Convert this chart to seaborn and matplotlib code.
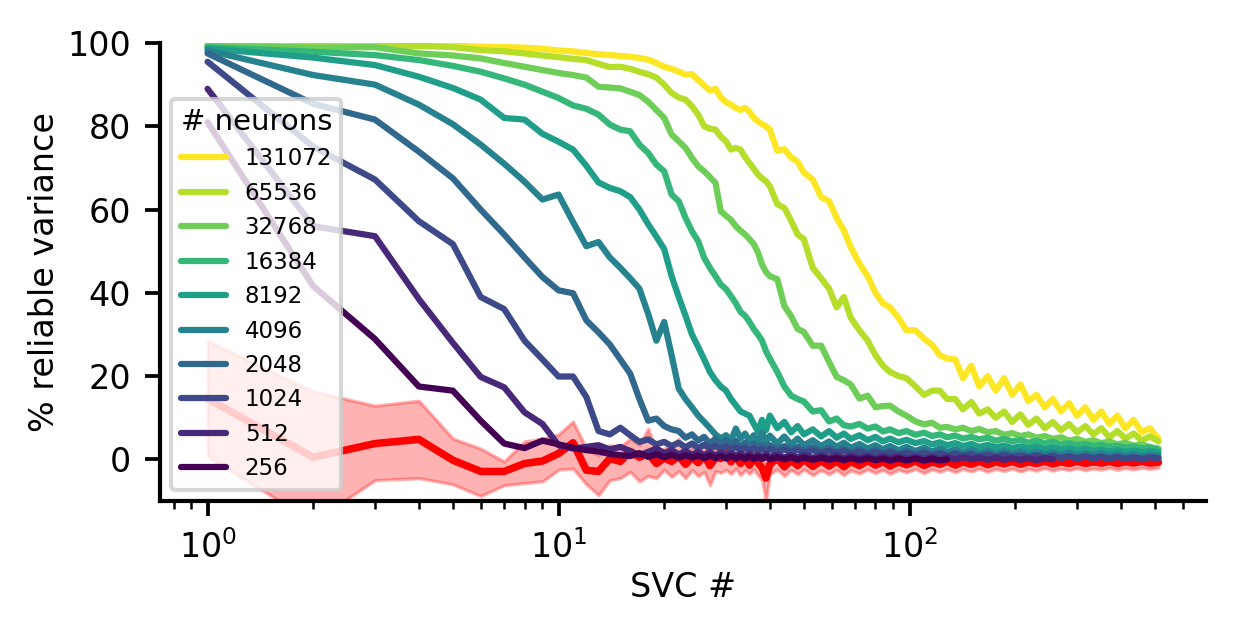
import numpy as np
import pandas as pd
import matplotlib
matplotlib.use("Agg")
import matplotlib.pyplot as plt
import seaborn as sns

# ---------------- data ----------------
SVC_GRID = list(range(1, 41)) + [42, 44, 46, 48, 50, 53, 56, 59, 62, 65, 68, 72, 76, 80, 84, 88, 93, 98,
                                 104, 110, 116, 122, 128, 135, 142, 150, 158, 167, 176, 186, 196, 207,
                                 218, 230, 243, 256, 270, 285, 300, 317, 334, 352, 371, 391, 412, 435,
                                 459, 484, 512]

NEURONS = ["131072", "65536", "32768", "16384", "8192", "4096", "2048", "1024", "512", "256"]

v131072 = [99.8, 99.7, 99.7, 99.6, 99.4, 99.1, 99.0, 98.9, 98.6, 98.2,
           98.0, 97.6, 97.3, 97.1, 96.9, 96.7, 96.4, 96.0, 95.2, 94.3,
           93.8, 93.1, 92.4, 92.5, 91.1, 89.8, 88.6, 89.0, 86.9, 85.8,
           85.2, 84.4, 83.9, 84.4, 83.5, 82.0, 81.2, 80.5, 80.0, 79.2,
           74.1, 74.5, 72.5, 71.5, 68.9, 67.2, 63.0, 62.0, 58.0, 55.0, 51.0, 47.0, 44.0, 40.0,
           37.5, 36.5, 34.0, 31.0, 31.0, 29.0, 27.5, 25.0, 24.2, 24.0, 19.5, 22.5, 17.5, 20.0,
           16.5, 19.5, 15.5, 18.0, 14.0, 15.5, 12.5, 14.5, 11.5, 13.5, 10.5, 12.5, 9.5, 11.5,
           8.5, 10.5, 7.5, 9.5, 6.5, 7.5, 5.0]
v65536 = [99.6, 99.5, 99.5, 99.3, 99.0, 98.3, 98.0, 97.5, 97.0, 96.6,
          96.2, 95.9, 95.0, 94.2, 94.3, 93.8, 93.1, 92.5, 91.7, 90.0,
          88.0, 86.9, 86.4, 84.8, 82.8, 80.0, 79.4, 79.2, 77.5, 76.4,
          74.4, 74.8, 74.4, 72.6, 71.2, 69.8, 68.4, 67.5, 66.8, 65.6,
          61.3, 60.4, 57.3, 54.0, 52.9, 46.0, 43.5, 41.0, 36.5, 39.0, 34.0, 31.0, 28.5, 25.0,
          22.5, 21.0, 20.0, 19.5, 17.5, 15.5, 16.5, 16.5, 14.5, 14.5, 12.0, 13.8, 11.0, 12.0,
          10.0, 11.5, 9.0, 10.8, 8.3, 9.8, 7.5, 9.0, 7.0, 8.5, 6.5, 8.0, 6.0, 7.5,
          5.3, 6.8, 5.0, 6.2, 4.5, 5.5, 4.3]
v32768 = [99.3, 98.9, 99.0, 97.5, 97.0, 96.3, 95.2, 94.3, 93.5, 92.8,
          92.3, 91.7, 89.5, 89.3, 89.1, 88.3, 87.5, 85.9, 83.9, 82.0,
          78.0, 76.4, 74.8, 72.4, 70.4, 69.2, 67.8, 66.4, 59.6, 58.5,
          57.5, 56.0, 54.9, 54.0, 52.9, 51.7, 49.7, 46.8, 45.0, 44.0,
          43.3, 36.8, 34.4, 31.3, 30.6, 27.3, 27.3, 23.4, 19.8, 19.0, 18.0, 14.6, 15.3, 12.5,
          12.8, 12.9, 11.5, 10.5, 9.1, 8.4, 8.8, 7.6, 7.8, 7.2, 7.6, 6.8, 7.3, 6.5,
          6.8, 5.9, 6.3, 5.6, 6.0, 5.2, 5.6, 4.9, 5.3, 4.5, 4.9, 4.2, 4.6, 3.9,
          4.3, 3.6, 4.0, 3.3, 3.6, 2.9, 2.6]
v16384 = [99.0, 97.9, 97.1, 95.9, 94.5, 93.1, 91.5, 90.0, 88.3, 86.8,
          85.0, 84.2, 82.8, 80.4, 79.2, 78.8, 75.6, 73.6, 70.8, 69.2,
          63.6, 62.0, 58.0, 54.8, 52.4, 48.4, 46.0, 44.0, 42.0, 40.9,
          39.2, 37.5, 35.4, 34.5, 33.0, 31.3, 30.0, 28.5, 26.0, 24.2,
          21.0, 17.5, 15.3, 14.5, 13.9, 11.5, 11.8, 9.1, 9.8, 8.2, 7.9, 8.5, 7.4, 7.9,
          6.7, 7.2, 6.3, 6.8, 5.9, 6.4, 5.6, 6.0, 5.3, 5.7, 5.0, 5.4, 4.8, 5.2,
          4.5, 4.9, 4.3, 4.7, 4.0, 4.4, 3.8, 4.2, 3.6, 3.9, 3.4, 3.7, 3.2, 3.5,
          3.0, 3.3, 2.8, 3.1, 2.6, 2.9, 2.3]
v8192 = [98.7, 96.5, 94.7, 91.9, 89.2, 86.4, 82.0, 81.6, 78.2, 76.3,
         74.4, 70.5, 66.5, 65.2, 64.4, 63.0, 60.0, 56.5, 53.5, 50.5,
         44.0, 39.0, 34.5, 30.0, 27.0, 24.0, 21.0, 19.0, 17.5, 16.5,
         14.5, 13.0, 11.5, 11.0, 10.5, 8.5, 6.7, 9.5, 7.0, 10.5,
         7.5, 9.0, 6.5, 8.0, 6.0, 7.2, 5.5, 6.8, 5.2, 6.2, 4.9, 5.8, 4.6, 5.4,
         4.3, 5.0, 4.1, 4.7, 3.9, 4.4, 3.6, 4.1, 3.4, 3.9, 3.2, 3.7, 3.0, 3.5,
         2.9, 3.3, 2.7, 3.1, 2.6, 3.0, 2.4, 2.8, 2.3, 2.6, 2.1, 2.5, 2.0, 2.3,
         1.9, 2.2, 1.8, 2.1, 1.7, 2.0, 1.6]
v4096 = [98.2, 92.3, 90.0, 85.2, 80.5, 75.6, 71.0, 66.7, 62.4, 63.6,
         57.0, 51.2, 52.2, 48.5, 46.0, 43.5, 41.0, 35.0, 28.5, 33.0,
         25.0, 17.0, 14.5, 12.5, 10.5, 9.0, 7.5, 6.0, 5.0, 5.8,
         4.5, 7.4, 5.0, 6.2, 4.4, 5.8, 4.0, 6.5, 4.2, 5.7,
         3.8, 5.5, 3.6, 5.0, 3.4, 4.6, 3.2, 4.3, 3.0, 4.0, 2.8, 3.7, 2.6, 3.4,
         2.4, 3.2, 2.2, 3.0, 2.0, 2.8, 1.9, 2.6, 1.8, 2.4, 1.6, 2.3, 1.5, 2.1,
         1.4, 2.0, 1.3, 1.9, 1.2, 1.8, 1.1, 1.7, 1.0, 1.6, 0.9, 1.5, 0.9, 1.4,
         0.8, 1.3, 0.7, 1.2, 0.7, 1.1, 0.8]
v2048 = [97.5, 85.4, 81.6, 73.9, 67.5, 60.0, 54.0, 48.5, 43.8, 40.6,
         39.9, 33.4, 30.5, 27.6, 24.0, 20.6, 14.5, 9.3, 9.8, 8.0,
         7.2, 6.8, 5.2, 6.0, 4.5, 5.4, 3.8, 5.0, 3.5, 4.6,
         3.2, 4.4, 3.0, 4.0, 2.8, 3.8, 2.7, 3.6, 2.6, 3.4,
         2.4, 3.2, 2.2, 3.0, 2.1, 2.9, 2.0, 2.7, 1.9, 2.5, 1.8, 2.4, 1.6, 2.3,
         1.5, 2.1, 1.4, 2.0, 1.3, 1.9, 1.2, 1.8, 1.1, 1.6, 1.0, 1.5, 0.9, 1.4,
         0.9, 1.3, 0.8, 1.2, 0.7, 1.1, 0.6, 1.0, 0.5, 0.9, 0.5, 0.9, 0.4, 0.8,
         0.4, 0.7, 0.3, 0.7, 0.3, 0.6, 0.4]
v1024 = [95.5, 75.1, 67.2, 57.2, 51.7, 39.0, 36.1, 28.5, 24.0, 19.9,
         19.9, 15.0, 6.8, 6.0, 7.6, 5.8, 4.2, 4.8, 3.6, 4.2,
         3.2, 4.0, 2.9, 3.8, 2.7, 3.5, 2.6, 3.3, 2.4, 3.1,
         2.3, 3.0, 2.2, 2.8, 2.1, 2.7, 2.0, 2.6, 1.9, 2.5,
         1.8, 2.4, 1.7, 2.3, 1.6, 2.2, 1.5, 2.1, 1.4, 2.0, 1.3, 1.9, 1.2, 1.8,
         1.1, 1.7, 1.0, 1.6, 0.9, 1.5, 0.8, 1.4, 0.8, 1.3, 0.7, 1.2, 0.6, 1.1,
         0.5, 1.0, 0.5, 0.9, 0.4, 0.9, 0.3, 0.8, 0.3, 0.7, 0.2, 0.7, 0.2, 0.6,
         0.1, 0.6, 0.1, 0.5, 0.0, 0.5, 0.2]
v512 = [89.0, 56.0, 53.6, 38.5, 28.0, 19.8, 17.3, 11.3, 8.5, 3.4,
        2.6, 3.0, 3.4, 2.4, 3.0, 2.0, 1.0, 1.8, 2.6, 1.5,
        2.2, 1.2, 2.0, 1.1, 1.8, 1.0, 1.7, 0.9, 1.6, 0.8,
        1.5, 0.8, 1.4, 0.7, 1.3, 0.7, 1.2, 0.6, 1.2, 0.6,
        1.1, 0.5, 1.0, 0.5, 1.0, 0.4, 0.9, 0.4, 0.9, 0.3, 0.8, 0.3, 0.8, 0.2,
        0.7, 0.2, 0.7, 0.1, 0.6, 0.1, 0.6, 0.0, 0.5, 0.0, 0.5, 0.0, 0.4, -0.1,
        0.4, -0.1, 0.3, -0.1, 0.3, -0.2, 0.3, 0.0]
v256 = [81.0, 41.6, 28.9, 17.5, 16.5, 9.3, 3.8, 2.7, 4.5, 3.6,
        2.8, 2.2, 1.9, 1.3, 1.0, 0.8, 1.5, 0.6, 1.2, 0.5,
        1.1, 0.4, 1.0, 0.4, 0.9, 0.3, 0.9, 0.3, 0.8, 0.2,
        0.8, 0.2, 0.7, 0.1, 0.7, 0.1, 0.6, 0.1, 0.6, 0.0,
        0.5, 0.0, 0.5, -0.1, 0.4, -0.1, 0.4, -0.1, 0.3, -0.2, 0.3, -0.2, 0.3, -0.2,
        0.2, -0.3, 0.2, -0.3, 0.2, -0.3, 0.1, -0.3, 0.0]

null_mean = [14.6, 0.5, 3.8, 4.8, -0.2, -2.9, -2.9, -1.0, -0.4, 1.4,
             4.0, -2.6, -2.9, 0.2, -0.5, 1.9, 0.5, 1.5, -1.0, 0.3,
             -0.5, 0.8, -1.2, 0.5, -0.8, 1.0, -1.5, 0.4, 0.2, 1.5,
             -0.6, 0.9, -1.0, 0.3, -1.4, 0.6, -0.9, -2.0, -4.5, -1.2,
             0.3, -1.8, -0.2, -1.5, 0.0, -1.7, -0.3, -1.6, -0.4, -1.8, -0.5, -1.5, -0.3, -1.4,
             -0.5, -1.6, -0.6, -1.3, -0.4, -1.5, -0.6, -1.2, -0.5, -1.4, -0.6, -1.2, -0.5, -1.3,
             -0.6, -1.1, -0.5, -1.2, -0.6, -1.0, -0.5, -1.1, -0.6, -1.0, -0.5, -1.0, -0.6, -0.9,
             -0.5, -1.0, -0.6, -0.9, -0.5, -0.9, -0.7]
null_upper = [28.5, 16.3, 12.9, 14.1, 5.0, 2.6, -0.5, 4.3, 5.0, 6.0,
              9.1, 2.6, 1.0, 3.4, 3.0, 5.0, 3.5, 7.4, 2.0, 2.6,
              3.5, 5.0, 1.0, 3.2, 1.5, 3.6, 0.5, 3.0, 2.5, 5.7,
              1.2, 3.2, 0.8, 2.4, 0.2, 2.6, 0.8, 0.2, -1.0, 1.0,
              2.2, 0.2, 1.8, 0.3, 1.7, 0.0, 1.5, 0.1, 1.4, -0.1, 1.2, 0.2, 1.3, 0.1,
              1.1, 0.0, 1.0, 0.2, 1.0, 0.0, 0.9, 0.2, 0.9, 0.0, 0.8, 0.2, 0.8, 0.1,
              0.7, 0.2, 0.7, 0.1, 0.6, 0.2, 0.6, 0.1, 0.5, 0.2, 0.5, 0.1, 0.4, 0.2,
              0.4, 0.1, 0.4, 0.2, 0.4, 0.2, 0.3]
null_lower = [0.7, -15.0, -5.0, -4.5, -6.0, -8.8, -6.2, -5.7, -5.3, -2.5,
              -2.2, -6.0, -8.6, -5.0, -4.5, -3.0, -5.3, -4.0, -4.5, -2.5,
              -4.2, -2.8, -4.5, -2.5, -4.0, -3.0, -6.2, -2.8, -3.2, -2.5,
              -3.5, -2.2, -3.8, -2.6, -3.5, -2.4, -3.8, -5.0, -10.0, -3.5,
              -2.4, -4.0, -2.5, -3.6, -2.4, -3.8, -2.6, -3.6, -2.5, -3.8, -2.6, -3.4, -2.4, -3.3,
              -2.5, -3.5, -2.5, -3.1, -2.3, -3.3, -2.4, -3.0, -2.3, -3.1, -2.3, -2.9, -2.2, -3.0,
              -2.3, -2.8, -2.2, -2.9, -2.3, -2.7, -2.1, -2.7, -2.2, -2.6, -2.1, -2.6, -2.2, -2.5,
              -2.0, -2.5, -2.1, -2.4, -2.0, -2.3, -2.0]

SERIES = [v131072, v65536, v32768, v16384, v8192, v4096, v2048, v1024, v512, v256]

# ---------------- build long-form table ----------------
rows = []
for name, vals in zip(NEURONS, SERIES):
    for n, v in zip(SVC_GRID, vals):
        rows.append((n, v, name))
df = pd.DataFrame(rows, columns=["SVC", "var", "# neurons"])
null_df = pd.DataFrame({"SVC": SVC_GRID[:len(null_mean)], "mean": null_mean,
                        "lo": null_lower, "hi": null_upper})

# ---------------- plot ----------------
sns.set_style("ticks", {"text.color": "black", "axes.labelcolor": "black",
                        "xtick.color": "black", "ytick.color": "black",
                        "axes.edgecolor": "black"})
plt.rcParams["font.family"] = ["DejaVu Sans"]

fig = plt.figure(figsize=(1234 / 300, 634 / 300), dpi=300)
ax = fig.add_axes([160 / 1234, 1 - 501 / 634, (1206 - 160) / 1234, (501 - 43) / 634])

colors = [matplotlib.colormaps["viridis"](t) for t in np.linspace(1, 0, len(NEURONS))]

ax.fill_between(null_df["SVC"], null_df["lo"], null_df["hi"], color="red", alpha=0.3, lw=0.8)
sns.lineplot(data=null_df, x="SVC", y="mean", color="red", linewidth=1.8, ax=ax,
             legend=False, estimator=None, errorbar=None, sort=False)

sns.lineplot(data=df, x="SVC", y="var", hue="# neurons", hue_order=NEURONS, palette=colors,
             linewidth=1.5, ax=ax, estimator=None, errorbar=None, sort=False)

ax.set_xscale("log")
ax.set_ylim(-10, 100)
ax.set_yticks([0, 20, 40, 60, 80, 100])
ax.tick_params(labelsize=8, width=0.9, colors="black")
ax.set_xlabel("SVC #", fontsize=8, labelpad=1.5)
ax.set_ylabel("% reliable variance", fontsize=8, labelpad=1.5)
for s in ax.spines.values():
    s.set_linewidth(1.0)
sns.despine(ax=ax)

sns.move_legend(ax, "lower left", title="# neurons", fontsize=5.5, title_fontsize=7,
                frameon=True)
leg = ax.get_legend()
for h in leg.get_lines():
    h.set_linewidth(1.5)

fig.savefig("out.png", dpi=300)
